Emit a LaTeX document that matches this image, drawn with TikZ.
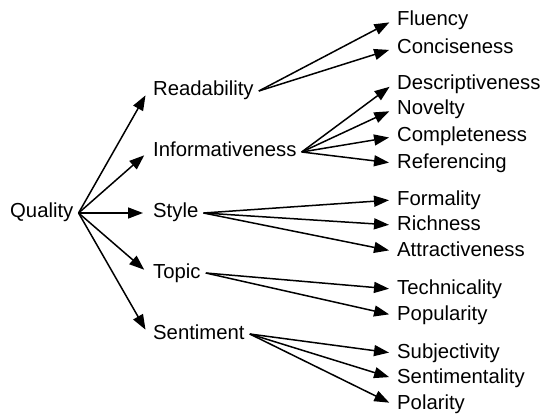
\documentclass[tikz,border=0pt]{standalone}
\usepackage{fontspec}
\setmainfont{Liberation Sans}
\usetikzlibrary{arrows.meta}
\begin{document}
\begin{tikzpicture}[x=1pt,y=-1pt,
  lbl/.style={anchor=west,inner xsep=5pt,inner ysep=0pt,text height=14pt,text depth=4pt,font=\fontsize{20.3}{24}\selectfont},
  edge1/.style={line width=1.5pt,-{Triangle[length=15pt,width=11pt]},shorten >=5pt},
  edge2/.style={line width=1.5pt,-{Triangle[length=15pt,width=11pt]},shorten >=3pt}]
\useasboundingbox (0,0) rectangle (543,414);
\node[lbl] (q) at (5,213) {Quality};
\node[lbl] (rd) at (148,91) {Readability};
\node[lbl] (inf) at (148,152) {Informativeness};
\node[lbl] (sty) at (148,213) {Style};
\node[lbl] (top) at (148,273) {Topic};
\node[lbl] (sen) at (148,334) {Sentiment};
\node[lbl] (flu) at (392,21) {Fluency};
\node[lbl] (con) at (392,49) {Conciseness};
\node[lbl] (des) at (392,85) {Descriptiveness};
\node[lbl] (nov) at (392,110) {Novelty};
\node[lbl] (com) at (392,137) {Completeness};
\node[lbl] (ref) at (392,163) {Referencing};
\node[lbl] (for) at (392,200) {Formality};
\node[lbl] (ric) at (392,225) {Richness};
\node[lbl] (att) at (392,251) {Attractiveness};
\node[lbl] (tec) at (392,289) {Technicality};
\node[lbl] (pop) at (392,315) {Popularity};
\node[lbl] (sub) at (392,353) {Subjectivity};
\node[lbl] (sti) at (392,378) {Sentimentality};
\node[lbl] (pol) at (392,404) {Polarity};
\foreach \t in {rd,inf,sty,top,sen} \draw[edge1] (q.east) -- (\t.west);
\foreach \t in {flu,con} \draw[edge2] (rd.east) -- (\t.west);
\foreach \t in {des,nov,com,ref} \draw[edge2] (inf.east) -- (\t.west);
\foreach \t in {for,ric,att} \draw[edge2] (sty.east) -- (\t.west);
\foreach \t in {tec,pop} \draw[edge2] (top.east) -- (\t.west);
\foreach \t in {sub,sti,pol} \draw[edge2] (sen.east) -- (\t.west);
\end{tikzpicture}
\end{document}
